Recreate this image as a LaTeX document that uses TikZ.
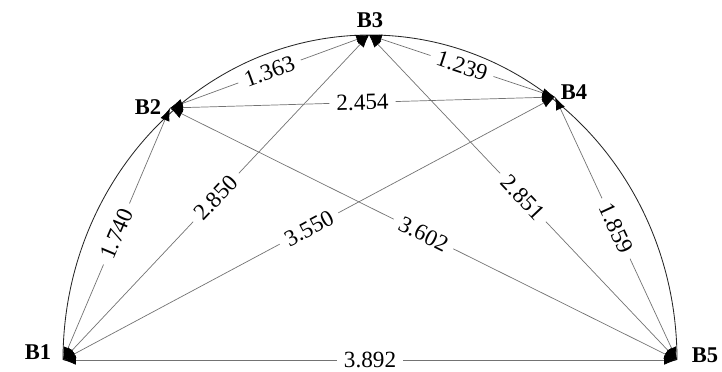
\documentclass[tikz,border=0pt]{standalone}
\usepackage{fontspec}
\setmainfont{Liberation Serif}
\usetikzlibrary{arrows.meta}
\tikzset{
  dist/.style={<->, draw=black!55, line width=0.5pt},
  lbl/.style={fill=white, inner xsep=5pt, inner ysep=1pt, sloped, font=\fontsize{16.5}{18}\selectfont},
  pt/.style={font=\bfseries\fontsize{16}{18}\selectfont, inner sep=1pt}
}
\begin{document}
\begin{tikzpicture}[x=0.025cm, y=0.025cm, >={Latex[length=3.2mm,width=2.4mm,color=black]}]
  \useasboundingbox (0,0) rectangle (722,372);
  \coordinate (b1) at (63,12);
  \coordinate (b2) at (170,264);
  \coordinate (b3) at (369,337);
  \coordinate (b4) at (555,275);
  \coordinate (b5) at (677,12);
  \draw[black!85, line width=0.6pt] (b1) arc[start angle=180, end angle=0, x radius=307, y radius=325];
  \draw[dist] (b1) -- node[lbl] {3.892} (b5);
  \draw[dist] (b1) -- node[lbl] {1.740} (b2);
  \draw[dist] (b1) -- node[lbl] {2.850} (b3);
  \draw[dist] (b1) -- node[lbl] {3.550} (b4);
  \draw[dist] (b2) -- node[lbl] {1.363} (b3);
  \draw[dist] (b2) -- node[lbl] {2.454} (b4);
  \draw[dist] (b2) -- node[lbl] {3.602} (b5);
  \draw[dist] (b3) -- node[lbl] {1.239} (b4);
  \draw[dist] (b3) -- node[lbl] {2.851} (b5);
  \draw[dist] (b4) -- node[lbl] {1.859} (b5);
  \node[pt] (n1) at (38,20) {B1};
  \node[pt] (n2) at (148,265) {B2};
  \node[pt] (n3) at (370,352) {B3};
  \node[pt] (n4) at (574,280) {B4};
  \node[pt] (n5) at (705,17) {B5};
\end{tikzpicture}
\end{document}
